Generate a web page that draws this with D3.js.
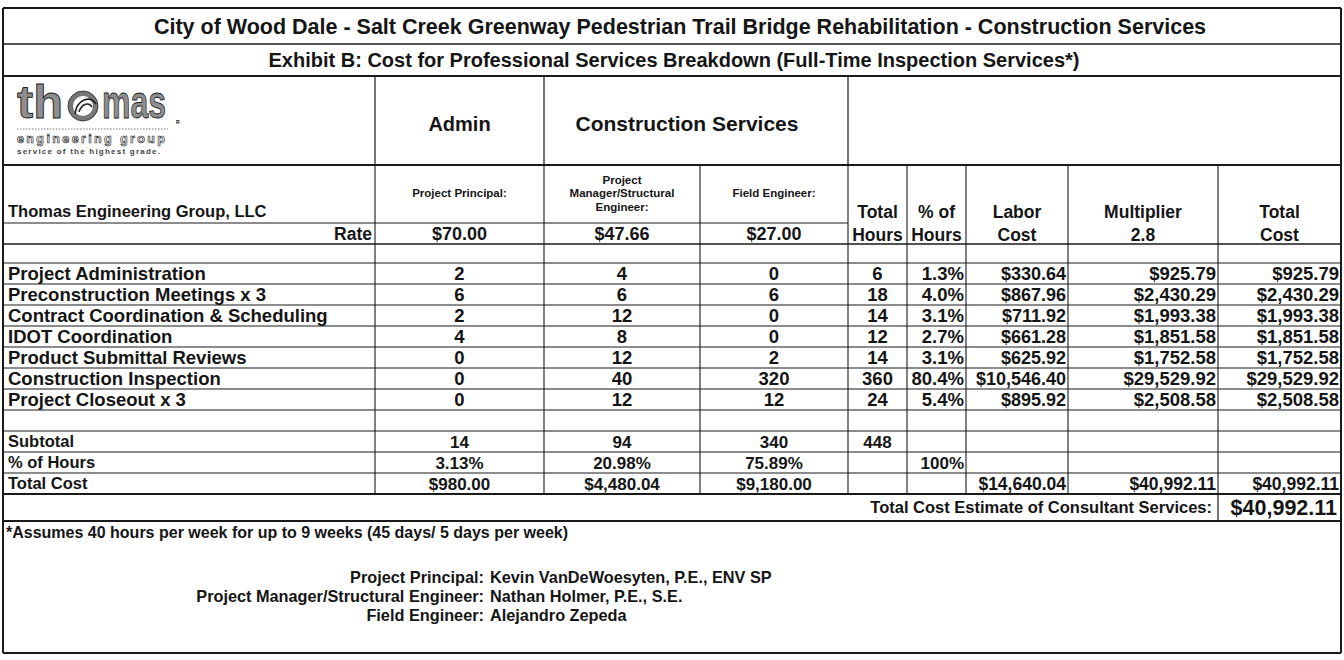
<!DOCTYPE html>
<html><head><meta charset="utf-8">
<script src="https://cdn.jsdelivr.net/npm/d3@7"></script>
<style>
body{margin:0;background:#fff}
svg{display:block}
text{font-family:"Liberation Sans",Arial,Helvetica,sans-serif;font-weight:bold;fill:#151515}
</style>
</head><body>
<svg id="chart" width="1344" height="660"></svg>
<script>
// ---------------- data ----------------
const titleText = "City of Wood Dale - Salt Creek Greenway Pedestrian Trail Bridge Rehabilitation - Construction Services";
const subtitleText = "Exhibit B: Cost for Professional Services Breakdown (Full-Time Inspection Services*)";
const groupLabels = ["Admin", "Construction Services"];
const roleLabels = [["Project Principal:"], ["Project", "Manager/Structural", "Engineer:"], ["Field Engineer:"]];
const summaryHeaders = [["Total", "Hours"], ["% of", "Hours"], ["Labor", "Cost"], ["Multiplier", "2.8"], ["Total", "Cost"]];
const firmName = "Thomas Engineering Group, LLC";
const rateLabel = "Rate";
const rates = ["$70.00", "$47.66", "$27.00"];
const tasks = ["Project Administration", "Preconstruction Meetings x 3", "Contract Coordination & Scheduling",
  "IDOT Coordination", "Product Submittal Reviews", "Construction Inspection", "Project Closeout x 3"];
const principalHours = [2, 6, 2, 4, 0, 0, 0];
const managerHours = [4, 6, 12, 8, 12, 40, 12];
const fieldHours = [0, 6, 0, 0, 2, 320, 12];
const totalHours = [6, 18, 14, 12, 14, 360, 24];
const pctHours = ["1.3%", "4.0%", "3.1%", "2.7%", "3.1%", "80.4%", "5.4%"];
const laborCost = ["$330.64", "$867.96", "$711.92", "$661.28", "$625.92", "$10,546.40", "$895.92"];
const multiplierCost = ["$925.79", "$2,430.29", "$1,993.38", "$1,851.58", "$1,752.58", "$29,529.92", "$2,508.58"];
const taskTotalCost = ["$925.79", "$2,430.29", "$1,993.38", "$1,851.58", "$1,752.58", "$29,529.92", "$2,508.58"];
const summaryLabels = ["Subtotal", "% of Hours", "Total Cost"];
const subtotalHours = [14, 94, 340, 448];
const rolePct = ["3.13%", "20.98%", "75.89%"];
const totalPct = "100%";
const roleCost = ["$980.00", "$4,480.04", "$9,180.00"];
const grandCosts = ["$14,640.04", "$40,992.11", "$40,992.11"];
const estimateLabel = "Total Cost Estimate of Consultant Services:";
const estimateValue = "$40,992.11";
const footnote = "*Assumes 40 hours per week for up to 9 weeks (45 days/ 5 days per week)";
const staffRoles = ["Project Principal:", "Project Manager/Structural Engineer:", "Field Engineer:"];
const staffNames = ["Kevin VanDeWoesyten, P.E., ENV SP", "Nathan Holmer, P.E., S.E.", "Alejandro Zepeda"];

// ---------------- layout ----------------
const svg = d3.select("#chart");
const colWidths = [372, 169, 156, 148, 59, 59, 102, 150, 123];
const rowHeights = [36, 32, 89, 58, 21, 19, 21, 21, 21, 21, 21, 21, 21, 21, 21, 21, 21, 27, 132];
const colEdges = [0, ...Array.from(d3.cumsum(colWidths))];
const rowEdges = [0, ...Array.from(d3.cumsum(rowHeights))];
const x = d3.scaleLinear().domain([0, colEdges[colEdges.length - 1]]).range([3, 1341]);
const y = d3.scaleLinear().domain([0, rowEdges[rowEdges.length - 1]]).range([8, 653]);
const cx = i => x(colEdges[i]);
const ry = i => y(rowEdges[i]);
const colMid = i => (cx(i) + cx(i + 1)) / 2;
const rowMid = i => (ry(i) + ry(i + 1)) / 2;

const lines = svg.append("g").attr("stroke", "#1a1a1a").attr("fill", "none");
function hline(r, c0, c1, w) { lines.append("line").attr("x1", cx(c0)).attr("x2", cx(c1)).attr("y1", ry(r)).attr("y2", ry(r)).attr("stroke-width", w || 1.1); }
function vline(c, r0, r1, w) { lines.append("line").attr("x1", cx(c)).attr("x2", cx(c)).attr("y1", ry(r0)).attr("y2", ry(r1)).attr("stroke-width", w || 1.1); }

const nC = colWidths.length, nR = rowHeights.length;
hline(0, 0, nC, 2); hline(1, 0, nC, 1.6); hline(2, 0, nC, 2); hline(3, 0, nC, 2);
hline(4, 0, 4, 1.2);
for (let r = 5; r <= 16; r++) hline(r, 0, nC, r === 5 ? 1.5 : 1.1);
hline(17, 0, nC, 1.8); hline(18, 0, nC, 1.8); hline(nR, 0, nC, 2);
vline(0, 0, nR, 2); vline(nC, 0, nR, 2);
[1, 2, 4].forEach(c => vline(c, 2, 3, 1.2));
for (let c = 1; c < nC; c++) vline(c, 3, 17, 1.1);
vline(8, 17, 18, 1.2);

const T = svg.append("g");
function txt(s, xx, yy, size, anchor) {
  return T.append("text").attr("x", xx).attr("y", yy).attr("dy", "0.36em")
    .attr("font-size", size).attr("text-anchor", anchor || "middle").text(s);
}

// titles
txt(titleText, 680, rowMid(0), 21.5);
txt(subtitleText, 674, rowMid(1), 20);

// logo
const logo = svg.append("g");
const logoStyle = t => t.attr("font-size", 47).style("fill", "#8e8e8e").attr("stroke", "#222")
  .attr("stroke-width", 0.9).attr("lengthAdjust", "spacingAndGlyphs");
logoStyle(logo.append("text").attr("x", 17).attr("y", 118).attr("textLength", 46).text("th"));
logoStyle(logo.append("text").attr("x", 102).attr("y", 118).attr("textLength", 64).text("mas"));
logo.append("circle").attr("cx", 83).attr("cy", 106).attr("r", 12.5).attr("fill", "none").attr("stroke", "#777").attr("stroke-width", 5);
logo.append("circle").attr("cx", 83).attr("cy", 106).attr("r", 15).attr("fill", "none").attr("stroke", "#222").attr("stroke-width", 0.8);
logo.append("path").attr("d", "M75,114 C77,99 90,95 96,104 M79,112 C82,103 89,102 92,107").attr("stroke", "#222").attr("stroke-width", 1.6).attr("fill", "none");
logo.append("text").attr("x", 176).attr("y", 124).attr("font-size", 5).attr("font-weight", "normal").text("R");
logo.append("line").attr("x1", 17).attr("x2", 168).attr("y1", 129).attr("y2", 129).attr("stroke", "#777").attr("stroke-dasharray", "1.5,1.5");
logo.append("text").attr("x", 17).attr("y", 143).attr("font-size", 12.5).attr("font-weight", "normal")
  .style("fill", "#fff").attr("stroke", "#333").attr("stroke-width", 0.7).attr("textLength", 148).text("engineering group");
logo.append("text").attr("x", 17).attr("y", 154).attr("font-size", 8).attr("font-weight", "normal")
  .style("fill", "#444").attr("textLength", 143).text("service of the highest grade.");

// group headers
txt(groupLabels[0], colMid(1), rowMid(2) + 3, 20);
txt(groupLabels[1], 687, rowMid(2) + 3, 21);

// role headers
roleLabels.forEach((ls, i) => {
  const n = ls.length, mid = rowMid(3) - 1;
  ls.forEach((s, k) => txt(s, colMid(1 + i), mid + (k - (n - 1) / 2) * 13.5, 11.5));
});
txt(firmName, cx(0) + 5, ry(4) - 12, 16.5, "start");
summaryHeaders.forEach((ls, i) => {
  txt(ls[0], colMid(4 + i), ry(3) + 47, 17.5);
  txt(ls[1], colMid(4 + i), ry(3) + 70, 17.5);
});

// rate row
txt(rateLabel, cx(1) - 3, rowMid(4), 17.5, "end");
rates.forEach((s, i) => txt(s, colMid(1 + i), rowMid(4), 18));

// task rows
const fs = 18.5;
tasks.forEach((t, i) => {
  const r = 6 + i, m = rowMid(r);
  txt(t, cx(0) + 5, m, fs, "start");
  txt(principalHours[i], colMid(1), m, fs);
  txt(managerHours[i], colMid(2), m, fs);
  txt(fieldHours[i], colMid(3), m, fs);
  txt(totalHours[i], colMid(4), m, fs);
  txt(pctHours[i], cx(6) - 2, m, fs, "end");
  txt(laborCost[i], cx(7) - 2, m, 18, "end");
  txt(multiplierCost[i], cx(8) - 2, m, fs, "end");
  txt(taskTotalCost[i], cx(9) - 2, m, fs, "end");
});

// summary rows
const fs2 = 16.5;
summaryLabels.forEach((s, k) => txt(s, cx(0) + 5, rowMid(14 + k), fs2, "start"));
subtotalHours.forEach((v, i) => txt(v, colMid(1 + i), rowMid(14), 17));
rolePct.forEach((v, i) => txt(v, colMid(1 + i), rowMid(15), 17));
txt(totalPct, cx(6) - 2, rowMid(15), 17, "end");
roleCost.forEach((v, i) => txt(v, colMid(1 + i), rowMid(16), 17));
grandCosts.forEach((v, i) => txt(v, cx(7 + i) - 2, rowMid(16), 17.5, "end"));

// estimate row
txt(estimateLabel, cx(8) - 6, rowMid(17), 16.5, "end");
txt(estimateValue, cx(9) - 4, rowMid(17), 21.5, "end");

// footer
txt(footnote, cx(0) + 3, ry(18) + 11, 16, "start");
staffRoles.forEach((s, i) => {
  const yy = ry(18) + 56 + i * 19;
  txt(s, 484, yy, 16.3, "end");
  txt(staffNames[i], 490, yy, 16.3, "start");
});
</script>
</body></html>
